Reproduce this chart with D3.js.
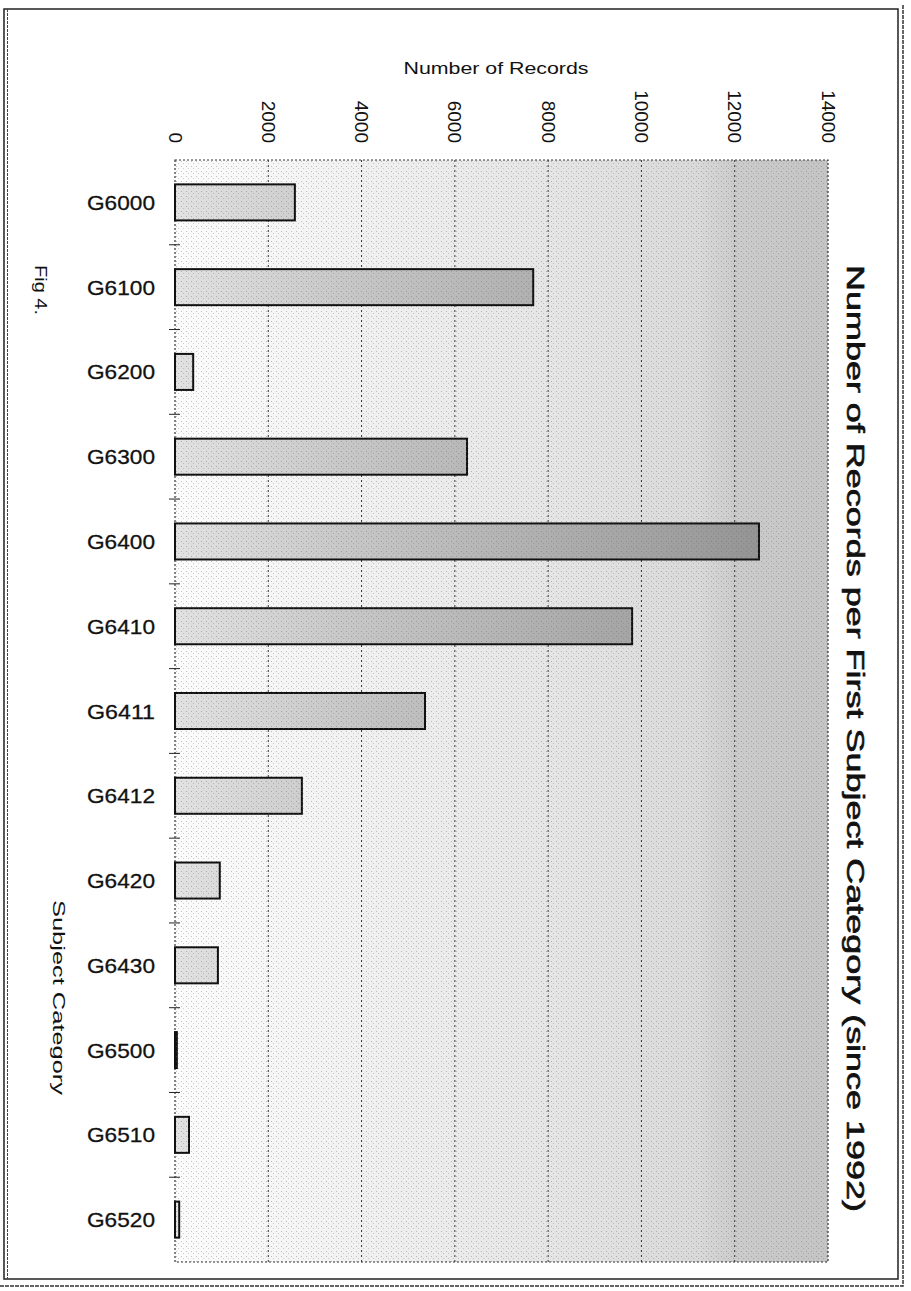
<!DOCTYPE html>
<html>
<head>
<meta charset="utf-8">
<script src="https://cdn.jsdelivr.net/npm/d3@7"></script>
<style>
  html, body { margin: 0; padding: 0; background: #ffffff; }
  svg { display: block; }
  text { font-family: "Liberation Sans", Arial, sans-serif; fill: #111; }
</style>
</head>
<body>
<div id="chart"></div>
<script>
// ---- data ----
const categories = ["G6000", "G6100", "G6200", "G6300", "G6400", "G6410", "G6411",
                    "G6412", "G6420", "G6430", "G6500", "G6510", "G6520"];
const records = [2570, 7680, 390, 6260, 12520, 9800, 5360, 2720, 960, 920, 40, 300, 90];
const tickValues = [0, 2000, 4000, 6000, 8000, 10000, 12000, 14000];
const titleText = "Number of Records per First Subject Category (since 1992)";
const valueAxisTitle = "Number of Records";
const categoryAxisTitle = "Subject Category";
const figLabel = "Fig 4.";

const W = 911, H = 1291;
const svg = d3.select("#chart").append("svg").attr("width", W).attr("height", H);

const plot = { left: 175, right: 828, top: 160, bottom: 1262 };

const x = d3.scaleLinear().domain([0, 14000]).range([plot.left, plot.right]);
const y = d3.scaleBand().domain(categories).range([plot.top, plot.bottom])
  .paddingInner(0.575).paddingOuter(0.2875);

const defs = svg.append("defs");
const bg = defs.append("linearGradient").attr("id", "bgGrad")
  .attr("gradientUnits", "userSpaceOnUse")
  .attr("x1", plot.left).attr("x2", plot.right).attr("y1", 0).attr("y2", 0);
[[0, "#fcfcfc"], [0.3, "#f0f0f0"], [0.6, "#e4e4e4"], [0.8, "#d9d9d9"], [0.86, "#cbcbcb"], [1, "#c4c4c4"]]
  .forEach(([o, c]) => bg.append("stop").attr("offset", o).attr("stop-color", c));

const barGrad = defs.append("linearGradient").attr("id", "barGrad")
  .attr("gradientUnits", "userSpaceOnUse")
  .attr("x1", plot.left).attr("x2", plot.right).attr("y1", 0).attr("y2", 0);
[[0, "#e2e2e2"], [0.25, "#c8c8c8"], [0.5, "#b4b4b4"], [0.8, "#9d9d9d"], [1, "#8a8a8a"]]
  .forEach(([o, c]) => barGrad.append("stop").attr("offset", o).attr("stop-color", c));

// stipple texture
const pat = defs.append("pattern").attr("id", "stipple")
  .attr("width", 5).attr("height", 5).attr("patternUnits", "userSpaceOnUse");
pat.append("rect").attr("x", 1).attr("y", 1).attr("width", 1).attr("height", 1).attr("fill", "#666").attr("opacity", 0.4);
pat.append("rect").attr("x", 3).attr("y", 3).attr("width", 1).attr("height", 1).attr("fill", "#666").attr("opacity", 0.3);

// ---- outer frame ----
svg.append("rect").attr("x", 4).attr("y", 9).attr("width", 894).attr("height", 1270)
  .attr("fill", "none").attr("stroke", "#222").attr("stroke-width", 1.5);
svg.append("line").attr("x1", 7.5).attr("x2", 7.5).attr("y1", 9).attr("y2", 1279)
  .attr("stroke", "#444").attr("stroke-width", 1).attr("stroke-dasharray", "3,1");
svg.append("path").attr("d", "M903,5 L903,1286 L0,1286")
  .attr("fill", "none").attr("stroke", "#333").attr("stroke-width", 1.5).attr("stroke-dasharray", "4,1");

// ---- plot background ----
svg.append("rect").attr("x", plot.left).attr("y", plot.top)
  .attr("width", plot.right - plot.left).attr("height", plot.bottom - plot.top)
  .attr("fill", "url(#bgGrad)");
svg.append("rect").attr("x", plot.left).attr("y", plot.top)
  .attr("width", plot.right - plot.left).attr("height", plot.bottom - plot.top)
  .attr("fill", "url(#stipple)");

// gridlines
svg.append("g").selectAll("line").data(tickValues.filter(d => d > 0 && d < 14000)).join("line")
  .attr("x1", d => x(d)).attr("x2", d => x(d))
  .attr("y1", plot.top).attr("y2", plot.bottom)
  .attr("stroke", "#333").attr("stroke-width", 1).attr("stroke-dasharray", "2,3");

// plot frame (dotted)
svg.append("rect").attr("x", plot.left).attr("y", plot.top)
  .attr("width", plot.right - plot.left).attr("height", plot.bottom - plot.top)
  .attr("fill", "none").attr("stroke", "#333").attr("stroke-width", 1.2).attr("stroke-dasharray", "2,2");

// ---- bars ----
svg.append("g").selectAll("rect").data(categories).join("rect")
  .attr("x", x(0))
  .attr("y", d => y(d))
  .attr("width", (d, i) => Math.max(1, x(records[i]) - x(0)))
  .attr("height", y.bandwidth())
  .attr("fill", "url(#barGrad)")
  .attr("stroke", "#111").attr("stroke-width", 2);
svg.append("g").selectAll("rect").data(categories).join("rect")
  .attr("x", x(0))
  .attr("y", d => y(d))
  .attr("width", (d, i) => Math.max(1, x(records[i]) - x(0)))
  .attr("height", y.bandwidth())
  .attr("fill", "url(#stipple)");

// ---- category axis ----
const boundaries = categories.map(c => y(c) - y.step() * y.paddingInner() / 2).slice(1);
svg.append("g").selectAll("line").data(boundaries).join("line")
  .attr("x1", plot.left - 6).attr("x2", plot.left + 5)
  .attr("y1", d => d).attr("y2", d => d)
  .attr("stroke", "#222").attr("stroke-width", 1);

svg.append("g").selectAll("text").data(categories).join("text")
  .attr("x", 155)
  .attr("y", d => y(d) + y.bandwidth() / 2)
  .attr("text-anchor", "end")
  .attr("dominant-baseline", "central")
  .attr("font-size", 21)
  .attr("stroke", "#111").attr("stroke-width", 0.3)
  .attr("textLength", 68).attr("lengthAdjust", "spacingAndGlyphs")
  .text(d => d);

// ---- value axis tick labels (rotated) ----
svg.append("g").selectAll("text").data(tickValues).join("text")
  .attr("transform", d => `translate(${x(d)},143) rotate(90)`)
  .attr("text-anchor", "end")
  .attr("dominant-baseline", "central")
  .attr("font-size", 19)
  .text(d => d);

// value axis title
svg.append("text")
  .attr("x", 496).attr("y", 74)
  .attr("text-anchor", "middle")
  .attr("font-size", 16)
  .attr("textLength", 185).attr("lengthAdjust", "spacingAndGlyphs")
  .text(valueAxisTitle);

// chart title (rotated)
svg.append("text")
  .attr("transform", "translate(855,265) rotate(90)")
  .attr("text-anchor", "start")
  .attr("dominant-baseline", "central")
  .attr("font-size", 23)
  .attr("stroke", "#111").attr("stroke-width", 0.6)
  .attr("textLength", 947).attr("lengthAdjust", "spacingAndGlyphs")
  .text(titleText);

// Fig label
svg.append("text")
  .attr("transform", "translate(40,265) rotate(90)")
  .attr("text-anchor", "start")
  .attr("dominant-baseline", "central")
  .attr("font-size", 17)
  .attr("textLength", 50).attr("lengthAdjust", "spacingAndGlyphs")
  .text(figLabel);

// category axis title
svg.append("text")
  .attr("transform", "translate(58,900) rotate(90)")
  .attr("text-anchor", "start")
  .attr("dominant-baseline", "central")
  .attr("font-size", 17)
  .attr("textLength", 195).attr("lengthAdjust", "spacingAndGlyphs")
  .text(categoryAxisTitle);
</script>
</body>
</html>
